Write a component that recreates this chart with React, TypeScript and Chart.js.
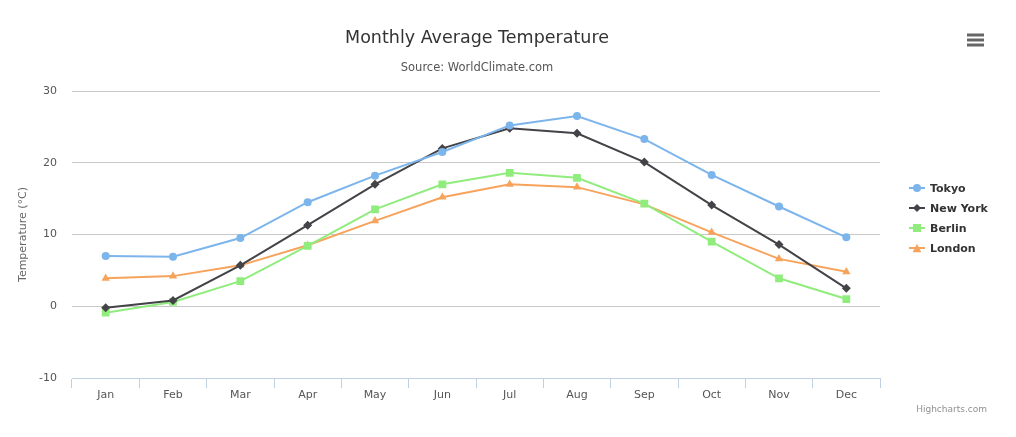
import React, { useEffect, useRef } from "react";
import { Chart, registerables } from "chart.js";

Chart.register(...registerables);

const months = ["Jan", "Feb", "Mar", "Apr", "May", "Jun", "Jul", "Aug", "Sep", "Oct", "Nov", "Dec"];
const tokyo = [7.0, 6.9, 9.5, 14.5, 18.2, 21.5, 25.2, 26.5, 23.3, 18.3, 13.9, 9.6];
const newYork = [-0.2, 0.8, 5.7, 11.3, 17.0, 22.0, 24.8, 24.1, 20.1, 14.1, 8.6, 2.5];
const berlin = [-0.9, 0.6, 3.5, 8.4, 13.5, 17.0, 18.6, 17.9, 14.3, 9.0, 3.9, 1.0];
const london = [3.9, 4.2, 5.7, 8.5, 11.9, 15.2, 17.0, 16.6, 14.2, 10.3, 6.6, 4.8];

const seriesNames = ["Tokyo", "New York", "Berlin", "London"];
const seriesColors = ["#7cb5ec", "#434348", "#90ed7d", "#f7a35c"];
const pointStyles = ["circle", "rectRot", "rect", "triangle"];
const pointRadii = [4, 4.5, 5.5, 4.8];

const titleText = "Monthly Average Temperature";
const subtitleText = "Source: WorldClimate.com";
const yTitle = "Temperature (°C)";
const creditText = "Highcharts.com";
const FONT = '"DejaVu Sans", "Lucida Grande", sans-serif';

const W = 1016;
const H = 437;
const PLOT_LEFT = 72;
const PLOT_RIGHT = 880;
const PLOT_TOP = 91;
const PLOT_BOTTOM = 378;

function drawMarker(ctx: CanvasRenderingContext2D, style: string, x: number, y: number, r: number, color: string) {
  ctx.save();
  ctx.fillStyle = color;
  ctx.beginPath();
  if (style === "circle") {
    ctx.arc(x, y, r, 0, Math.PI * 2);
  } else if (style === "rectRot") {
    ctx.moveTo(x, y - r);
    ctx.lineTo(x + r, y);
    ctx.lineTo(x, y + r);
    ctx.lineTo(x - r, y);
    ctx.closePath();
  } else if (style === "rect") {
    ctx.rect(x - r, y - r, 2 * r, 2 * r);
  } else {
    ctx.moveTo(x, y - r);
    ctx.lineTo(x + r, y + r);
    ctx.lineTo(x - r, y + r);
    ctx.closePath();
  }
  ctx.fill();
  ctx.restore();
}

const decorPlugin = {
  id: "decor",
  afterDraw(chart: any) {
    const ctx: CanvasRenderingContext2D = chart.ctx;
    ctx.save();
    // title
    ctx.textAlign = "center";
    ctx.textBaseline = "middle";
    ctx.fillStyle = "#333333";
    ctx.font = `17.5px ${FONT}`;
    ctx.fillText(titleText, 477, 38);
    ctx.fillStyle = "#555555";
    ctx.font = `11.5px ${FONT}`;
    ctx.fillText(subtitleText, 477, 68);
    // y axis title
    ctx.save();
    ctx.translate(23, (PLOT_TOP + PLOT_BOTTOM) / 2);
    ctx.rotate(-Math.PI / 2);
    ctx.fillStyle = "#666666";
    ctx.font = `11px ${FONT}`;
    ctx.fillText(yTitle, 0, 0);
    ctx.restore();
    // legend
    ctx.textAlign = "left";
    ctx.font = `bold 11px ${FONT}`;
    seriesNames.forEach((name, i) => {
      const y = 188 + i * 20;
      ctx.strokeStyle = seriesColors[i];
      ctx.lineWidth = 2;
      ctx.beginPath();
      ctx.moveTo(909, y);
      ctx.lineTo(925, y);
      ctx.stroke();
      const rr = i === 2 ? 4 : i === 3 ? 4.3 : 4;
      drawMarker(ctx, pointStyles[i], 917, y, rr, seriesColors[i]);
      ctx.fillStyle = "#333333";
      ctx.fillText(name, 930, y + 1);
    });
    // credits
    ctx.textAlign = "right";
    ctx.fillStyle = "#909090";
    ctx.font = `9px ${FONT}`;
    ctx.fillText(creditText, 987, 410);
    // menu icon
    ctx.strokeStyle = "#666666";
    ctx.lineWidth = 3;
    [35, 40, 45].forEach((y) => {
      ctx.beginPath();
      ctx.moveTo(967, y);
      ctx.lineTo(984, y);
      ctx.stroke();
    });
    ctx.restore();
  },
};

export default function App() {
  const ref = useRef<HTMLCanvasElement | null>(null);
  useEffect(() => {
    if (!ref.current) return;
    const datasets = [tokyo, newYork, berlin, london].map((d, i) => ({
      label: seriesNames[i],
      data: d,
      borderColor: seriesColors[i],
      backgroundColor: seriesColors[i],
      borderWidth: 2,
      pointStyle: pointStyles[i] as any,
      pointRadius: pointRadii[i],
      pointHoverRadius: pointRadii[i],
      pointBorderWidth: 0,
      pointBackgroundColor: seriesColors[i],
      tension: 0,
    }));
    const chart = new Chart(ref.current, {
      type: "line",
      data: { labels: months, datasets },
      options: {
        animation: false,
        responsive: false,
        devicePixelRatio: 1,
        layout: {
          padding: { top: PLOT_TOP, right: W - PLOT_RIGHT, left: 0, bottom: 0 },
        },
        plugins: {
          legend: { display: false },
          title: { display: false },
          tooltip: { enabled: false },
        },
        scales: {
          x: {
            offset: true,
            grid: {
              offset: true,
              drawOnChartArea: false,
              drawTicks: true,
              tickLength: 10,
              color: "#C0D0E0",
              lineWidth: 1,
            },
            border: { display: true, color: "#C0D0E0", width: 1 },
            ticks: {
              color: "#555555",
              font: { family: FONT, size: 11 },
              padding: 1,
              maxRotation: 0,
              autoSkip: false,
            },
            afterFit(scale: any) {
              scale.height = H - PLOT_BOTTOM;
            },
          },
          y: {
            min: -10,
            max: 30,
            ticks: {
              stepSize: 10,
              color: "#555555",
              font: { family: FONT, size: 11 },
              padding: 15,
            },
            grid: {
              color: "#C8C8C8",
              lineWidth: 1,
              drawTicks: false,
            },
            border: { display: false },
            afterFit(scale: any) {
              scale.width = PLOT_LEFT;
            },
          },
        },
      },
      plugins: [decorPlugin],
    });
    return () => chart.destroy();
  }, []);
  return (
    <div style={{ position: "fixed", left: 0, top: 0, width: W, height: H, background: "#fff" }}>
      <canvas ref={ref} width={W} height={H} style={{ width: W, height: H, display: "block" }} />
    </div>
  );
}
